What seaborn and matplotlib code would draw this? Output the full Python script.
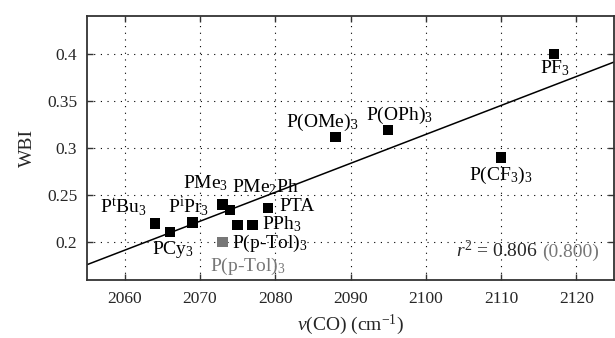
import numpy as np
import pandas as pd
import matplotlib
matplotlib.use("Agg")
import matplotlib.pyplot as plt
import seaborn as sns

# data
ligands = ['P$^{\\rm t}$Bu$_3$', 'PCy$_3$', 'P$^{\\rm i}$Pr$_3$', 'PMe$_3$', 'PMe$_2$Ph',
           'P(p-Tol)$_3$', 'PPh$_3$', 'PTA', 'P(OMe)$_3$', 'P(OPh)$_3$',
           'P(CF$_3$)$_3$', 'PF$_3$']
nu_co = [2064, 2066, 2069, 2073, 2074, 2075, 2077, 2079, 2088, 2095, 2110, 2117]
wbi = [0.220, 0.211, 0.221, 0.240, 0.234, 0.218, 0.218, 0.236, 0.312, 0.319, 0.290, 0.400]

grey_ligand = 'P(p-Tol)$_3$'
grey_nu = [2073]
grey_wbi = [0.200]

r2_black = 0.806
r2_grey = 0.800

# label placement: (ha, dx px, dy px) relative to marker
label_pos = {
    'P$^{\\rm t}$Bu$_3$': ('right', -8, 10),
    'PCy$_3$': ('center', 3, -22),
    'P$^{\\rm i}$Pr$_3$': ('center', -4, 10),
    'PMe$_3$': ('center', -17, 16),
    'PMe$_2$Ph': ('left', 2, 18),
    'P(p-Tol)$_3$': ('left', -6, -23),
    'PPh$_3$': ('left', 9, -4),
    'PTA': ('left', 12, -3),
    'P(OMe)$_3$': ('center', -13, 10),
    'P(OPh)$_3$': ('left', -22, 10),
    'P(CF$_3$)$_3$': ('center', 0, -23),
    'PF$_3$': ('center', 1, -20),
}

df = pd.DataFrame({'ligand': ligands, 'nu': nu_co, 'wbi': wbi})
dfg = pd.DataFrame({'nu': grey_nu, 'wbi': grey_wbi})

sns.set_style('ticks')
plt.rcParams['font.family'] = ['Liberation Serif', 'DejaVu Serif']
plt.rcParams['mathtext.fontset'] = 'custom'
plt.rcParams['mathtext.rm'] = 'Liberation Serif'
plt.rcParams['mathtext.it'] = 'Liberation Serif:italic'
plt.rcParams['mathtext.bf'] = 'Liberation Serif:bold'

fig = plt.figure(figsize=(6.15, 3.38), dpi=100)
ax = fig.add_axes([87/615, 1 - 280/338, 527/615, 264/338])

ax.set_xlim(2055, 2125)
ax.set_ylim(0.16, 0.44)

sns.regplot(data=df, x='nu', y='wbi', ax=ax, scatter=False, ci=None, truncate=False,
            line_kws={'color': 'black', 'lw': 1.1})
sns.scatterplot(data=df, x='nu', y='wbi', ax=ax, marker='s', s=55, color='black',
                edgecolor='none', zorder=3)
sns.scatterplot(data=dfg, x='nu', y='wbi', ax=ax, marker='s', s=55, color='#777777',
                edgecolor='none', zorder=3)

fs = 14
for lig, x, y in zip(ligands, nu_co, wbi):
    ha, dx, dy = label_pos[lig]
    ax.annotate(lig, (x, y), xytext=(dx * 0.72, dy * 0.72), textcoords='offset points',
                ha=ha, va='baseline', fontsize=fs, color='black')
ax.annotate(grey_ligand, (grey_nu[0], grey_wbi[0]), xytext=(-12.7 * 0.72, -29 * 0.72),
            textcoords='offset points', ha='left', va='baseline', fontsize=fs, color='#777777')

t1 = ax.text(2114.9, 0.1845, '$r^2$ = %.3f' % r2_black, ha='right', va='baseline', fontsize=fs)
ax.annotate('(%.3f)' % r2_grey, xy=(1, 0), xycoords=t1, xytext=(3, 0),
            textcoords='offset points', ha='left', va='bottom', fontsize=fs, color='#777777')

ax.set_xticks([2060, 2070, 2080, 2090, 2100, 2110, 2120])
ax.set_yticks([0.2, 0.25, 0.3, 0.35, 0.4])
ax.set_yticklabels(['0.2', '0.25', '0.3', '0.35', '0.4'])
ax.grid(True, color='black', linestyle=(0, (1, 5)), lw=0.8)
ax.tick_params(direction='in', length=4, width=1, top=True, right=True, labelsize=12.5,
               color='#333333')
ax.tick_params(axis='x', pad=8)
ax.tick_params(axis='y', pad=7)
for s in ax.spines.values():
    s.set_visible(True)
    s.set_color('#333333')
    s.set_linewidth(1.3)

ax.set_xlabel('$\\nu$(CO) (cm$^{-1}$)', fontsize=14, labelpad=4)
ax.set_ylabel('WBI', fontsize=14, labelpad=8)

fig.savefig('out.png', dpi=100)
